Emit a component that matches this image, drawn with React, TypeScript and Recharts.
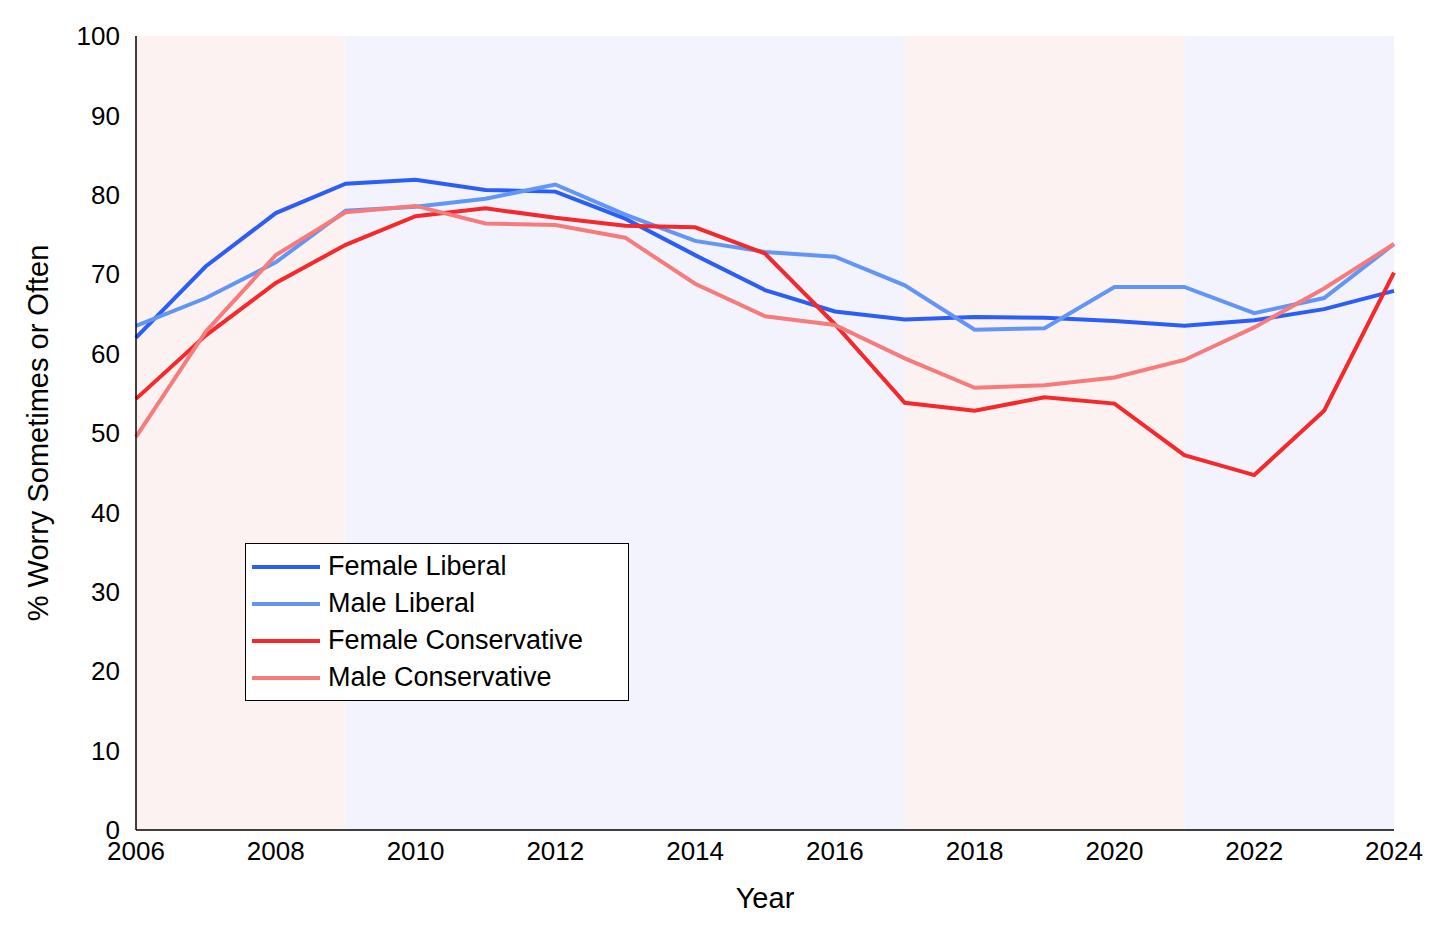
import { LineChart, Line, XAxis, YAxis, ReferenceArea } from 'recharts';

const years = [2006, 2007, 2008, 2009, 2010, 2011, 2012, 2013, 2014, 2015, 2016, 2017, 2018, 2019, 2020, 2021, 2022, 2023, 2024];
const femaleLiberal = [62, 71, 77.7, 81.4, 81.9, 80.6, 80.4, 77, 72.4, 68, 65.3, 64.3, 64.6, 64.5, 64.1, 63.5, 64.2, 65.6, 67.9];
const maleLiberal = [63.5, 67, 71.5, 78, 78.5, 79.5, 81.3, 77.5, 74.2, 72.8, 72.2, 68.6, 63, 63.2, 68.4, 68.4, 65.1, 67, 73.8];
const femaleConservative = [54.3, 62.3, 68.9, 73.7, 77.3, 78.3, 77.1, 76.1, 75.9, 72.6, 63.7, 53.8, 52.8, 54.5, 53.7, 47.2, 44.7, 52.8, 70.2];
const maleConservative = [49.5, 62.8, 72.4, 77.8, 78.6, 76.4, 76.2, 74.6, 68.8, 64.7, 63.6, 59.4, 55.7, 56, 57, 59.2, 63.3, 68.2, 73.8];
const xTicks = [2006, 2008, 2010, 2012, 2014, 2016, 2018, 2020, 2022, 2024];
const yTicks = [0, 10, 20, 30, 40, 50, 60, 70, 80, 90, 100];
// party in the White House
const eras = [
  { from: 2006, to: 2009, fill: '#fdf2f2' },
  { from: 2009, to: 2017, fill: '#f3f3fd' },
  { from: 2017, to: 2021, fill: '#fdf2f2' },
  { from: 2021, to: 2024, fill: '#f3f3fd' },
];

const series = [
  { key: 'fl', name: 'Female Liberal', color: '#2a5ef5' },
  { key: 'ml', name: 'Male Liberal', color: '#6196f7' },
  { key: 'fc', name: 'Female Conservative', color: '#f5282b' },
  { key: 'mc', name: 'Male Conservative', color: '#f77b7b' },
];

const data = years.map((year, i) => ({
  year,
  fl: femaleLiberal[i],
  ml: maleLiberal[i],
  fc: femaleConservative[i],
  mc: maleConservative[i],
}));

const font = '"Liberation Sans", Arial, sans-serif';

const LegendBox = () => (
  <div style={{ position: 'absolute', left: 237, top: 535, border: '1px solid #000', background: '#fff', padding: '4px 6px 4px 6px', width: 370, fontFamily: font, fontSize: 27 }}>
    {series.map(s => (
      <div key={s.key} style={{ display: 'flex', alignItems: 'center', height: 37, color: '#000' }}>
        <div style={{ width: 68, height: 4, background: s.color, marginRight: 8 }} />
        {s.name}
      </div>
    ))}
  </div>
);

const App = () => {
  return (
    <div style={{ fontFamily: font, position: 'relative', width: 1440, height: 920 }}>
      <LineChart width={1440} height={920} data={data} margin={{ top: 28, right: 54, left: 0, bottom: 16 }}>
        {eras.map(e => (
          <ReferenceArea key={e.from} x1={e.from} x2={e.to} y1={0} y2={100} fill={e.fill} fillOpacity={1} stroke="none" />
        ))}
        <XAxis
          dataKey="year"
          type="number"
          domain={[2006, 2024]}
          ticks={xTicks}
          height={82}
          tick={{ fill: '#000', fontSize: 26 }}
          tickLine={false}
          axisLine={{ stroke: '#000', strokeWidth: 1.5 }}
          tickMargin={6}
          label={{ value: 'Year', position: 'insideBottom', offset: 4, fill: '#000', fontSize: 29 }}
        />
        <YAxis
          type="number"
          domain={[0, 100]}
          ticks={yTicks}
          width={128}
          tick={{ fill: '#000', fontSize: 26 }}
          tickLine={false}
          axisLine={{ stroke: '#000', strokeWidth: 1.5 }}
          tickMargin={10}
          label={{ value: '% Worry Sometimes or Often', angle: -90, position: 'insideLeft', offset: 30, style: { textAnchor: 'middle' }, fill: '#000', fontSize: 29 }}
        />
        {series.map(s => (
          <Line key={s.key} dataKey={s.key} name={s.name} stroke={s.color} strokeWidth={4} dot={false} isAnimationActive={false} />
        ))}
      </LineChart>
      <LegendBox />
    </div>
  );
};

export default App;
